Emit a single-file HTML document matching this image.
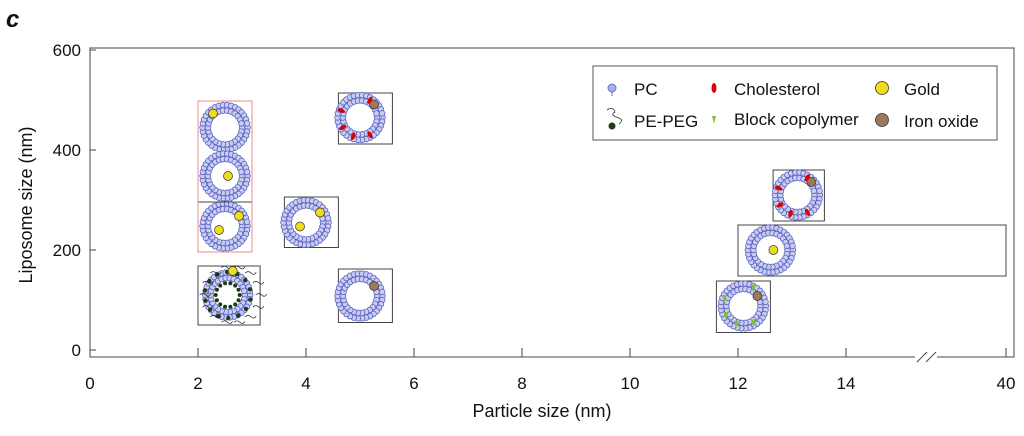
<!DOCTYPE html>
<html><head><meta charset="utf-8"><style>
body{margin:0;background:#fff}
svg text{font-family:"Liberation Sans",sans-serif;fill:#111}
</style></head><body>
<svg id="c" width="1024" height="431" viewBox="0 0 1024 431" xmlns="http://www.w3.org/2000/svg">
<text x="6" y="27" font-size="24" font-weight="bold" font-style="italic">c</text>
<rect x="90" y="48" width="924" height="309" fill="none" stroke="#444" stroke-width="1"/>
<g id="ticks"></g>
<g id="marks"></g>
<text x="542" y="417" font-size="18" text-anchor="middle">Particle size (nm)</text>
<text transform="translate(32,205) rotate(-90)" font-size="18" text-anchor="middle">Liposome size (nm)</text>
<g><rect x="915" y="352" width="22" height="10" fill="#fff"/><line x1="917" y1="362" x2="927" y2="352" stroke="#444"/><line x1="926" y1="362" x2="936" y2="352" stroke="#444"/></g>
<g>
<rect x="593" y="66" width="404" height="74" fill="#fff" stroke="#555"/>
<g><circle cx="612" cy="88" r="4" fill="#aab0e6" stroke="#6a72c8"/><line x1="612" y1="92" x2="612" y2="96" stroke="#6a72c8"/><text x="634" y="95" font-size="17">PC</text></g>
<g><path d="M607 110 q6 -4 8 2 q-6 3 4 6 q5 2 0 6" fill="none" stroke="#333" stroke-width="0.8"/><circle cx="612" cy="126" r="3.5" fill="#1c3b16"/><text x="634" y="127" font-size="17">PE-PEG</text></g>
<g><ellipse cx="714" cy="88" rx="2.5" ry="5" fill="#d00"/><text x="734" y="95" font-size="17">Cholesterol</text></g>
<g><path d="M712 116 l4 0 l-2 8 z" fill="#7ac23a"/><text x="734" y="125" font-size="17">Block copolymer</text></g>
<g><circle cx="882" cy="88" r="6.5" fill="#f0dc1c" stroke="#333" stroke-width="0.8"/><text x="904" y="95" font-size="17">Gold</text></g>
<g><circle cx="882" cy="120" r="6.5" fill="#9a7a58" stroke="#333" stroke-width="0.8"/><text x="904" y="127" font-size="17">Iron oxide</text></g>
</g>
</svg>
<script>
const xTicks=[0,2,4,6,8,10,12,14];
const xTickLabels=["0","2","4","6","8","10","12","14"];
const yTicks=[0,200,400,600];
const yTickLabels=["0","200","400","600"];
// boxes: particle size range (xMin,xMax), liposome size range (yMin,yMax)
const boxXMin=[2,2,2,3.6,4.6,4.6,12.65,12,11.6];
const boxXMax=[3,3,3.15,4.6,5.6,5.6,13.6,40,12.6];
const boxYMin=[196,196,50,205,412,55,258,148,35];
const boxYMax=[498,296,168,306,514,162,360,250,138];
const boxColor=["#e88","#444","#444","#444","#444","#444","#444","#444","#444"];
// liposome (x,y) centers in data units and type
const lipoX=[2.5,2.5,2.5,2.55,4,5,5,12.6,13.1,12.1];
const lipoY=[445,348,248,110,255,465,108,200,310,88];
const lipoType=["goldEdge","goldIn","goldBoth","peg","goldBoth","cholIron","iron","goldIn","cholIron","blockIron"];
const NS="http://www.w3.org/2000/svg";
function sx(v){return v<=14?90+54*v:846+(v-14)*(1006-846)/26;}
function sy(v){return 350-0.5*v;}
function el(t,a,p){const e=document.createElementNS(NS,t);for(const k in a)e.setAttribute(k,a[k]);p.appendChild(e);return e;}
const T=document.getElementById('ticks'),M=document.getElementById('marks');
const allX=xTicks.concat([40]),allXL=xTickLabels.concat(["40"]);
allX.forEach((v,i)=>{const x=sx(v);
const l=el('line',{x1:x,y1:357,x2:x,y2:348,stroke:'#444'},T);


const t=el('text',{x:x,y:389,'font-size':17,'text-anchor':'middle'},T);t.textContent=allXL[i];

});
yTicks.forEach((v,i)=>{const y=sy(v);
const l=el('line',{x1:90,y1:y,x2:96,y2:y,stroke:'#444'},T);


const t=el('text',{x:81,y:y+6,'font-size':17,'text-anchor':'end'},T);t.textContent=yTickLabels[i];

});
boxXMin.forEach((v,i)=>{const x1=sx(v),x2=sx(boxXMax[i]),y1=sy(boxYMax[i]),y2=sy(boxYMin[i]);
const r=el('rect',{x:x1,y:y1,width:x2-x1,height:y2-y1,fill:i<2?'none':'#fff',stroke:boxColor[i],'stroke-width':1},M);

});
function lipo(cx,cy,type){const g=el('g',{},M);


[[22.5,34],[17,26]].forEach(([R,n])=>{for(let k=0;k<n;k++){const a=k/n*2*Math.PI;
el('circle',{cx:cx+R*Math.cos(a),cy:cy+R*Math.sin(a),r:2.8,fill:'#c9cdf2',stroke:'#5a62c0','stroke-width':0.8},g);}});
const gold=(x,y)=>el('circle',{cx:x,cy:y,r:4.5,fill:'#f0dc1c',stroke:'#333','stroke-width':0.7},g);
const iron=(x,y)=>el('circle',{cx:x,cy:y,r:4.5,fill:'#9a7a58',stroke:'#333','stroke-width':0.7},g);
if(type=='goldEdge')gold(cx-12,cy-14);
if(type=='goldIn')gold(cx+3,cy);
if(type=='goldBoth'){gold(cx-6,cy+4);gold(cx+14,cy-10);}
if(type=='iron')iron(cx+14,cy-10);
if(type=='cholIron'||type=='blockIron'){iron(cx+14,cy-13+(type=='cholIron'?0:3));
[[-60],[200],[110],[60],[150]].forEach(([d])=>{const a=d*Math.PI/180;const px=cx+20*Math.cos(a),py=cy+20*Math.sin(a);
if(type=='cholIron')el('ellipse',{cx:px,cy:py,rx:2,ry:4,fill:'#d00',transform:`rotate(${d+90} ${px} ${py})`},g);
else el('path',{d:`M${px-2.5} ${py-4} l5 0 l-2.5 8 z`,fill:'#7ac23a'},g);});}
if(type=='peg'){for(let k=0;k<14;k++){const a=k/14*2*Math.PI;const r1=12,r2=28;
el('circle',{cx:cx+r1*Math.cos(a),cy:cy+r1*Math.sin(a),r:2,fill:'#1c3b16'},g);
el('circle',{cx:cx+(r2-5)*Math.cos(a+0.2),cy:cy+(r2-5)*Math.sin(a+0.2),r:2.2,fill:'#1c3b16'},g);
el('path',{d:`M${cx+r2*Math.cos(a)} ${cy+r2*Math.sin(a)} q3 -3 6 0 q3 3 5 -1`,fill:'none',stroke:'#222','stroke-width':0.7},g);}
gold(cx+5,cy-24);}
}
lipoX.forEach((v,i)=>lipo(sx(v),sy(lipoY[i]),lipoType[i]));
const bb=el('rect',{x:sx(boxXMin[1]),y:sy(boxYMax[1]),width:sx(boxXMax[1])-sx(boxXMin[1]),height:sy(boxYMin[1])-sy(boxYMax[1]),fill:'none',stroke:'#444'},M);


const rb=el('rect',{x:sx(boxXMin[0]),y:sy(boxYMax[0]),width:sx(boxXMax[0])-sx(boxXMin[0]),height:sy(boxYMin[0])-sy(boxYMax[0]),fill:'none',stroke:'#e88'},M);


</script>
</body></html>
